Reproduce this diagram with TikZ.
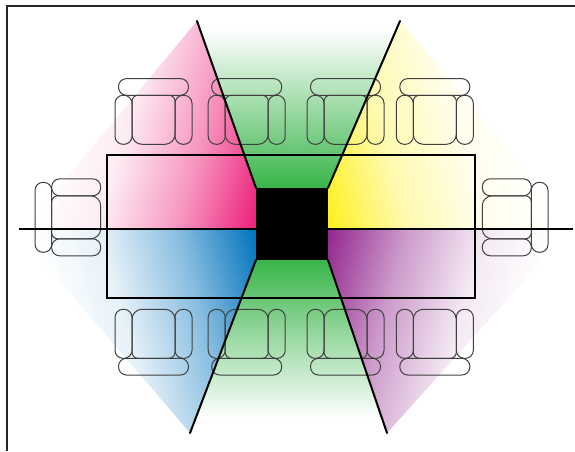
\documentclass[tikz,border=0pt]{standalone}
\definecolor{cpink}{RGB}{237,30,121}
\definecolor{cyell}{RGB}{255,240,30}
\definecolor{cblue}{RGB}{0,114,188}
\definecolor{cpurp}{RGB}{146,39,143}
\definecolor{cgreen}{RGB}{57,181,74}
\newcommand{\declfade}[4]{\pgfdeclarehorizontalshading{#1}{700bp}{color(0bp)=(white); color(65bp)=(#2!#3!white); color(140bp)=(#2!#4!white); color(215bp)=(#2); color(275bp)=(#2)}}
\declfade{spink}{cpink}{9}{47}
\declfade{syell}{cyell}{9}{36}
\declfade{sblue}{cblue}{10}{47}
\declfade{spurp}{cpurp}{10}{47}
\pgfdeclarehorizontalshading{sgreen}{700bp}{color(0bp)=(white); color(158bp)=(cgreen); color(218bp)=(cgreen)}
\tikzset{
  chairline/.style={draw=black!75,line width=1pt},
  heavy/.style={draw=black,line width=2pt},
  axisline/.style={draw=black,line width=2pt},
  framebox/.style={draw=black!85,line width=2pt},
}
% #1 clip polygon, #2 dark point, #3 axis angle, #4 shading
\newcommand{\wedgefill}[4]{%
  \begin{scope}
    \clip #1;
    \begin{scope}[shift={#2},rotate=#3]
      \node[transform shape,inner sep=0pt,outer sep=0pt,anchor=east] at (60,0) {\pgfuseshading{#4}};
    \end{scope}
  \end{scope}}
\newcommand{\chairshape}[1]{%
  \begin{scope}[#1]
    \draw[chairline,rounded corners=8pt] (-35,-16.7) rectangle (35,0);
    \draw[chairline,rounded corners=8pt] (-38.5,0) rectangle (-21.5,49);
    \draw[chairline,rounded corners=8pt] (21.5,0) rectangle (38.5,49);
    \draw[chairline,rounded corners=6pt] (-21.5,25) -- (-21.5,0) -- (21.5,0) -- (21.5,25);
    \draw[chairline,rounded corners=10pt] (21.5,25) -- (21.5,49) -- (-21.5,49) -- (-21.5,25);
  \end{scope}}
\begin{document}
\begin{tikzpicture}[x=1pt,y=-1pt]
\useasboundingbox (0,0) rectangle (575,451);
\wedgefill{(197,21)--(400,21)--(328,188)--(256,188)--cycle}{(292,188)}{-90}{sgreen}
\wedgefill{(190,433)--(387,433)--(328,260)--(256,260)--cycle}{(292,260)}{90}{sgreen}
\wedgefill{(197,21)--(256,188)--(256,229)--(24,229)--cycle}{(256,229)}{-15}{spink}
\wedgefill{(190,433)--(256,260)--(256,229)--(15,229)--cycle}{(256,229)}{15}{sblue}
\wedgefill{(400,21)--(328,188)--(328,229)--(576,229)--cycle}{(328,229)}{195}{syell}
\wedgefill{(387,433)--(328,260)--(328,229)--(571,229)--cycle}{(328,229)}{165}{spurp}
\chairshape{shift={(153.5,95.3)}}
\chairshape{shift={(246.7,95.3)}}
\chairshape{shift={(345.5,95.3)}}
\chairshape{shift={(434.8,95.3)}}
\chairshape{shift={(153.5,358.3)},yscale=-1}
\chairshape{shift={(246.7,358.3)},yscale=-1}
\chairshape{shift={(345.5,358.3)},yscale=-1}
\chairshape{shift={(434.8,358.3)},yscale=-1}
\chairshape{shift={(51.7,217.3)},rotate=90}
\chairshape{shift={(531.3,217.3)},rotate=-90}
\draw[heavy] (107,155) rectangle (475,298);
\draw[axisline] (19,229) -- (573,229);
\draw[heavy,line cap=round] (197,21) -- (256,188);
\draw[heavy,line cap=round] (400,21) -- (328,188);
\draw[heavy,line cap=round] (190,433) -- (256,260);
\draw[heavy,line cap=round] (387,433) -- (328,260);
\fill[black] (256,188) rectangle (328,260);
\draw[framebox] (7,451) -- (7,6) -- (575,6);
\end{tikzpicture}
\end{document}
